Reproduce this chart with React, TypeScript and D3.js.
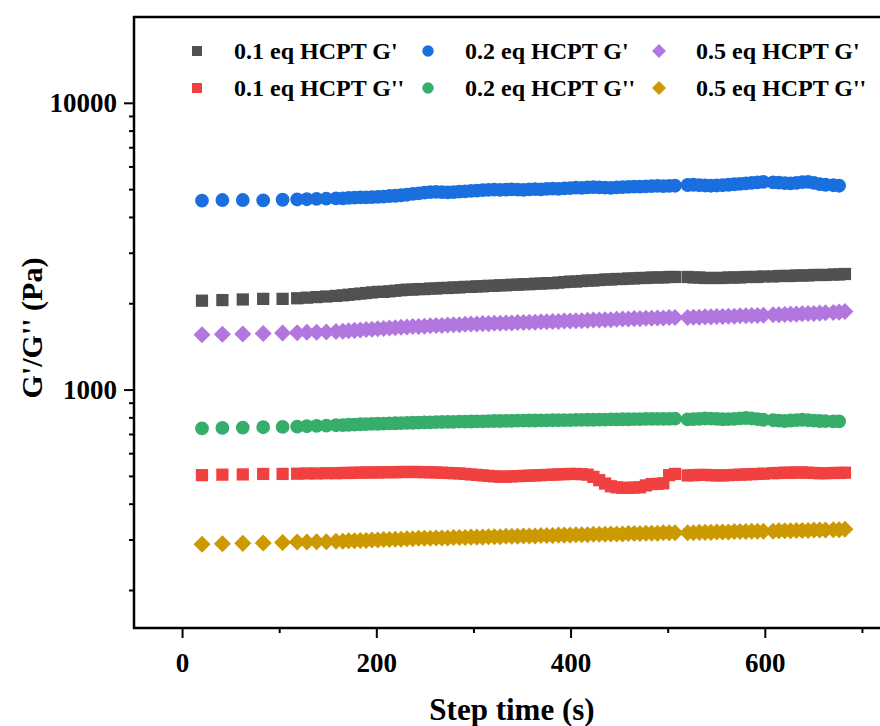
import * as d3 from 'd3';

// step time (s), shared by all series
const stepTime = [
  20, 41, 62, 83, 103, 118, 128, 138, 148, 158,
  165, 171, 177, 183, 189, 195, 201, 207, 213, 219,
  225, 231, 237, 243, 249, 255, 261, 267, 273, 279,
  285, 291, 297, 303, 309, 315, 321, 327, 333, 339,
  345, 351, 357, 363, 369, 375, 381, 387, 393, 399,
  405, 411, 417, 423, 429, 435, 441, 447, 453, 459,
  465, 471, 477, 483, 489, 495, 501, 507,
  520, 526, 532, 538, 544, 550, 556, 562, 568, 574, 580, 586, 592, 598,
  608, 614, 620, 626, 632, 638, 644, 650, 656, 662,
  670, 676, 682,
];

// 0.1 eq HCPT G'
const g01Storage = [
  2050, 2060, 2070, 2080, 2080, 2090, 2100, 2110, 2120, 2130,
  2140, 2150, 2160, 2170, 2180, 2190, 2200, 2200, 2210, 2220,
  2230, 2240, 2240, 2250, 2250, 2260, 2260, 2270, 2270, 2280,
  2280, 2290, 2290, 2300, 2300, 2310, 2310, 2320, 2320, 2330,
  2330, 2340, 2340, 2350, 2350, 2360, 2360, 2370, 2380, 2390,
  2390, 2400, 2410, 2410, 2420, 2430, 2430, 2440, 2440, 2450,
  2450, 2460, 2460, 2470, 2470, 2470, 2480, 2480,
  2480, 2470, 2470, 2460, 2460, 2460, 2460, 2470, 2470, 2470, 2480, 2480, 2480, 2490,
  2490, 2500, 2500, 2500, 2510, 2510, 2510, 2520, 2520, 2520,
  2530, 2530, 2540,
];

// 0.1 eq HCPT G''
const g01Loss = [
  505, 507, 508, 510, 510, 511, 512, 512, 513, 513,
  514, 514, 515, 515, 516, 516, 516, 517, 517, 517,
  518, 518, 518, 518, 517, 517, 516, 515, 514, 513,
  512, 510, 508, 506, 504, 502, 500, 499, 499, 500,
  501, 502, 503, 504, 505, 506, 507, 508, 509, 510,
  510, 509, 507, 498, 485, 472, 462, 458, 456, 456,
  457, 458, 465, 470, 471, 473, 505, 510,
  504, 505, 506, 506, 505, 504, 504, 505, 506, 507, 508, 509, 510, 511,
  513, 514, 515, 515, 516, 516, 515, 514, 513, 513,
  514, 514, 515,
];

// 0.2 eq HCPT G'
const g02Storage = [
  4580, 4600, 4600, 4590, 4610, 4620, 4630, 4640, 4650, 4660,
  4660, 4680, 4690, 4700, 4700, 4710, 4720, 4730, 4750, 4760,
  4780, 4800, 4830, 4850, 4880, 4900, 4910, 4900, 4890, 4900,
  4920, 4930, 4950, 4960, 4980, 4990, 5000, 4990, 5000, 5010,
  5000, 4990, 5010, 5020, 5010, 5030, 5040, 5030, 5050, 5060,
  5080, 5070, 5090, 5100, 5090, 5080, 5070, 5090, 5100, 5110,
  5120, 5120, 5130, 5140, 5150, 5140, 5150, 5160,
  5190, 5200, 5180, 5170, 5160, 5170, 5180, 5200, 5220, 5240, 5260, 5280, 5300, 5320,
  5300, 5290, 5270, 5260, 5280, 5310, 5320, 5280, 5230, 5200,
  5180, 5160, null,
];

// 0.2 eq HCPT G''
const g02Loss = [
  735, 738, 740, 742, 744, 746, 748, 750, 752, 754,
  755, 757, 758, 760, 761, 762, 763, 764, 765, 766,
  767, 768, 769, 770, 771, 772, 773, 774, 775, 775,
  776, 776, 777, 778, 778, 779, 780, 780, 781, 781,
  782, 782, 783, 783, 784, 784, 785, 785, 786, 786,
  787, 787, 788, 788, 789, 789, 790, 790, 791, 791,
  792, 792, 793, 793, 793, 794, 794, 795,
  790, 792, 794, 796, 795, 793, 791, 792, 794, 797, 799, 796, 792, 788,
  785, 782, 780, 783, 786, 788, 785, 782, 780, 779,
  778, 778, null,
];

// 0.5 eq HCPT G'
const g05Storage = [
  1560, 1565, 1570, 1575, 1580, 1585, 1590, 1590, 1595, 1600,
  1605, 1610, 1615, 1620, 1625, 1630, 1635, 1640, 1645, 1650,
  1655, 1660, 1665, 1665, 1670, 1675, 1680, 1680, 1685, 1690,
  1690, 1695, 1700, 1700, 1705, 1705, 1710, 1710, 1715, 1715,
  1720, 1720, 1725, 1725, 1730, 1730, 1735, 1735, 1740, 1740,
  1745, 1745, 1750, 1755, 1755, 1760, 1760, 1765, 1770, 1770,
  1775, 1775, 1780, 1780, 1785, 1785, 1790, 1790,
  1790, 1795, 1795, 1800, 1800, 1805, 1805, 1810, 1810, 1815, 1815, 1820, 1820, 1825,
  1830, 1830, 1835, 1840, 1840, 1845, 1850, 1850, 1855, 1860,
  1865, 1870, 1880,
];

// 0.5 eq HCPT G''
const g05Loss = [
  290, 291, 292, 293, 294, 295, 295, 296, 296, 297,
  297, 298, 298, 299, 299, 300, 300, 301, 301, 302,
  302, 303, 303, 304, 304, 304, 305, 305, 305, 306,
  306, 306, 307, 307, 307, 308, 308, 308, 309, 309,
  309, 310, 310, 310, 311, 311, 311, 312, 312, 312,
  313, 313, 313, 314, 314, 314, 315, 315, 315, 316,
  316, 316, 317, 317, 317, 318, 318, 318,
  318, 318, 319, 319, 319, 320, 320, 320, 321, 321, 321, 322, 322, 322,
  322, 323, 323, 323, 324, 324, 324, 325, 325, 325,
  326, 326, 327,
];

const xTicks = [0, 100, 200, 300, 400, 500, 600, 700];
const xLabels = [0, 200, 400, 600];
const yMajor = [1000, 10000];
const yMinor = [200, 300, 400, 500, 600, 700, 800, 900, 2000, 3000, 4000, 5000, 6000, 7000, 8000, 9000];

const series = [
  { name: "0.1 eq HCPT G'", values: g01Storage, color: '#515151', shape: 'square' },
  { name: "0.1 eq HCPT G''", values: g01Loss, color: '#F14040', shape: 'square' },
  { name: "0.2 eq HCPT G'", values: g02Storage, color: '#1A6FDF', shape: 'circle' },
  { name: "0.2 eq HCPT G''", values: g02Loss, color: '#37AD6B', shape: 'circle' },
  { name: "0.5 eq HCPT G'", values: g05Storage, color: '#B177DE', shape: 'diamond' },
  { name: "0.5 eq HCPT G''", values: g05Loss, color: '#CC9900', shape: 'diamond' },
];

const font = "'Liberation Serif', 'Times New Roman', serif";

function markerPath(shape: string, scale = 1) {
  if (shape === 'circle') return d3.symbol(d3.symbolCircle, 150 * scale * scale)()!;
  if (shape === 'diamond') return d3.symbol(d3.symbolSquare, 145 * scale * scale)()!;
  return d3.symbol(d3.symbolSquare, 150 * scale * scale)()!;
}

export default function App() {
  const left = 134;
  const top = 17;
  const bottom = 628;
  const right = 911;

  const x = d3.scaleLinear().domain([-50, 750]).range([left, right]);
  const y = d3.scaleLog().domain([148, 20000]).range([bottom, top]);

  return (
    <svg
      width={880}
      height={726}
      style={{ position: 'absolute', left: 0, top: 0, background: '#fff' }}
      fontFamily={font}
      fontWeight="bold"
    >
      <rect width={880} height={726} fill="#fff" />

      {/* data */}
      {series.map(s => {
        const path = markerPath(s.shape);
        return (
          <g key={s.name} fill={s.color}>
            {s.values.map((v, i) =>
              v == null ? null : (
                <path
                  key={i}
                  d={path}
                  transform={`translate(${x(stepTime[i])},${y(v)})${s.shape === 'diamond' ? ' rotate(45)' : ''}`}
                />
              )
            )}
          </g>
        );
      })}

      {/* frame */}
      <rect
        x={left}
        y={top}
        width={right - left}
        height={bottom - top}
        fill="none"
        stroke="#000"
        strokeWidth={2.5}
      />

      {/* x axis */}
      <g stroke="#000" strokeWidth={2}>
        {xTicks.map(t => (
          <line key={t} x1={x(t)} x2={x(t)} y1={bottom} y2={bottom + (xLabels.includes(t) ? 10 : 5)} />
        ))}
      </g>
      <g fontSize={27} textAnchor="middle">
        {xLabels.map(t => (
          <text key={t} x={x(t)} y={672}>
            {t}
          </text>
        ))}
      </g>
      <text x={512} y={720} fontSize={31} textAnchor="middle">
        Step time (s)
      </text>

      {/* y axis */}
      <g stroke="#000" strokeWidth={2}>
        {yMajor.map(t => (
          <line key={t} x1={left} x2={left - 10} y1={y(t)} y2={y(t)} />
        ))}
        {yMinor.map(t => (
          <line key={t} x1={left} x2={left - 5} y1={y(t)} y2={y(t)} />
        ))}
      </g>
      <g fontSize={27} textAnchor="end">
        {yMajor.map(t => (
          <text key={t} x={117} y={y(t) + 9}>
            {t}
          </text>
        ))}
      </g>
      <text transform="translate(42,328) rotate(-90)" fontSize={30} textAnchor="middle">
        G'/G'' (Pa)
      </text>

      {/* legend */}
      {series.map((s, i) => {
        const col = Math.floor(i / 2);
        const row = i % 2;
        const mx = 197 + col * 231;
        const my = 51 + row * 37;
        return (
          <g key={s.name}>
            <path
              d={markerPath(s.shape, 0.82)}
              fill={s.color}
              transform={`translate(${mx},${my})${s.shape === 'diamond' ? ' rotate(45)' : ''}`}
            />
            <text x={mx + 37} y={my + 8} fontSize={24}>
              {s.name}
            </text>
          </g>
        );
      })}
    </svg>
  );
}
